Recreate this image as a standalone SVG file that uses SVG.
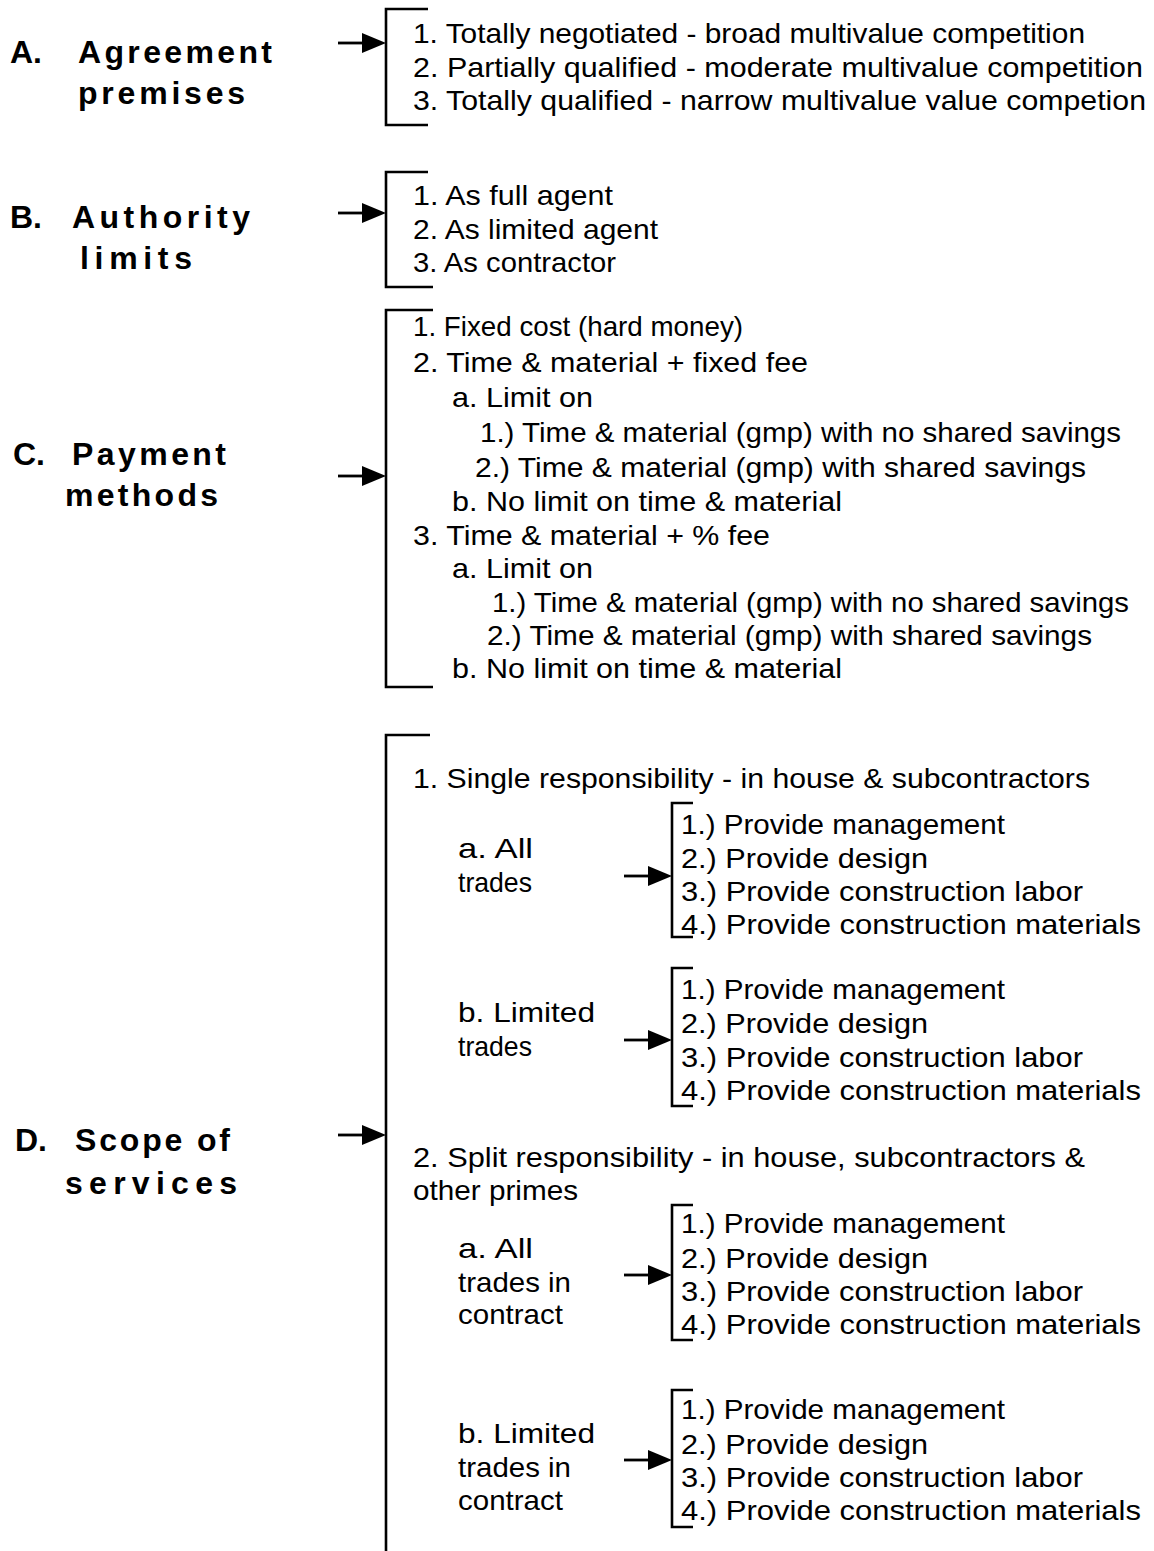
<svg xmlns="http://www.w3.org/2000/svg" width="1154" height="1551" viewBox="0 0 1154 1551">
<style>
.t{font-family:"Liberation Sans",Arial,sans-serif;font-size:28px;fill:#000}
.h{font-family:"Liberation Sans",Arial,sans-serif;font-size:32px;font-weight:bold;fill:#000}
.br{fill:none;stroke:#000;stroke-width:2.6}
.ar{stroke:#000;stroke-width:2.8}
</style>
<defs>
<g id="arrow"><line class="ar" x1="0" y1="0" x2="30" y2="0"/><path d="M24,-10 L48,0 L24,10 z" fill="#000"/></g>
</defs>
<g id="connectors">
<use href="#arrow" x="338" y="43"/>
<use href="#arrow" x="338" y="213"/>
<use href="#arrow" x="338" y="476"/>
<use href="#arrow" x="338" y="1135"/>
<use href="#arrow" x="624" y="876"/>
<use href="#arrow" x="624" y="1040"/>
<use href="#arrow" x="624" y="1275"/>
<use href="#arrow" x="624" y="1460"/>
</g>
<g id="nodeA">
<text class="h" x="10" y="63">A.</text>
<text class="h" x="78" y="63" textLength="194">Agreement</text>
<text class="h" x="78" y="104" textLength="167">premises</text>
</g>
<g id="listA">
<path class="br" d="M428,9 H386 V125 H428"/>
<text class="t" x="413" y="43" textLength="672" lengthAdjust="spacingAndGlyphs">1.  Totally negotiated - broad multivalue competition</text>
<text class="t" x="413" y="77" textLength="730" lengthAdjust="spacingAndGlyphs">2.  Partially qualified - moderate multivalue competition</text>
<text class="t" x="413" y="110" textLength="733" lengthAdjust="spacingAndGlyphs">3.  Totally qualified - narrow multivalue value competion</text>
</g>
<g id="nodeB">
<text class="h" x="10" y="228">B.</text>
<text class="h" x="72" y="228" textLength="178">Authority</text>
<text class="h" x="80" y="269" textLength="112">limits</text>
</g>
<g id="listB">
<path class="br" d="M428,172 H386 V287 H433"/>
<text class="t" x="413" y="205" textLength="200" lengthAdjust="spacingAndGlyphs">1.  As full agent</text>
<text class="t" x="413" y="239" textLength="245" lengthAdjust="spacingAndGlyphs">2.  As limited agent</text>
<text class="t" x="413" y="272" textLength="203" lengthAdjust="spacingAndGlyphs">3.  As contractor</text>
</g>
<g id="nodeC">
<text class="h" x="13" y="465">C.</text>
<text class="h" x="72" y="465" textLength="154">Payment</text>
<text class="h" x="65" y="506" textLength="153">methods</text>
</g>
<g id="listC">
<path class="br" d="M433,310 H386 V687 H433"/>
<text class="t" x="413" y="336" textLength="330" lengthAdjust="spacingAndGlyphs">1.  Fixed cost (hard money)</text>
<text class="t" x="413" y="372" textLength="395" lengthAdjust="spacingAndGlyphs">2.  Time &amp; material + fixed fee</text>
<text class="t" x="452" y="407" textLength="141" lengthAdjust="spacingAndGlyphs">a.  Limit on</text>
<text class="t" x="480" y="442" textLength="641" lengthAdjust="spacingAndGlyphs">1.) Time &amp; material (gmp) with no shared savings</text>
<text class="t" x="475" y="477" textLength="611" lengthAdjust="spacingAndGlyphs">2.) Time &amp; material (gmp) with shared savings</text>
<text class="t" x="452" y="511" textLength="390" lengthAdjust="spacingAndGlyphs">b.  No limit on time &amp; material</text>
<text class="t" x="413" y="545" textLength="357" lengthAdjust="spacingAndGlyphs">3.  Time &amp; material + % fee</text>
<text class="t" x="452" y="578" textLength="141" lengthAdjust="spacingAndGlyphs">a.  Limit on</text>
<text class="t" x="492" y="612" textLength="637" lengthAdjust="spacingAndGlyphs">1.) Time &amp; material (gmp) with no shared savings</text>
<text class="t" x="487" y="645" textLength="605" lengthAdjust="spacingAndGlyphs">2.) Time &amp; material (gmp) with shared savings</text>
<text class="t" x="452" y="678" textLength="390" lengthAdjust="spacingAndGlyphs">b.  No limit on time &amp; material</text>
</g>
<g id="nodeD">
<text class="h" x="15" y="1151">D.</text>
<text class="h" x="75" y="1151" textLength="155">Scope of</text>
<text class="h" x="65" y="1194" textLength="172">services</text>
</g>
<g id="listD">
<path class="br" d="M430,735 H386 V1551"/>
<text class="t" x="413" y="788" textLength="677" lengthAdjust="spacingAndGlyphs">1.  Single responsibility - in house &amp; subcontractors</text>
<text class="t" x="413" y="1167" textLength="672" lengthAdjust="spacingAndGlyphs">2.  Split responsibility - in house, subcontractors &amp;</text>
<text class="t" x="413" y="1200" textLength="165" lengthAdjust="spacingAndGlyphs">other primes</text>
</g>
<g id="nodeD1a">
<text class="t" x="458" y="858" textLength="75" lengthAdjust="spacingAndGlyphs">a.  All</text>
<text class="t" x="458" y="892" textLength="74" lengthAdjust="spacingAndGlyphs">trades</text>
</g>
<g id="listD1a">
<path class="br" d="M693,803 H672 V937 H693"/>
<text class="t" x="681" y="834" textLength="324" lengthAdjust="spacingAndGlyphs">1.) Provide management</text>
<text class="t" x="681" y="868" textLength="247" lengthAdjust="spacingAndGlyphs">2.) Provide design</text>
<text class="t" x="681" y="901" textLength="402" lengthAdjust="spacingAndGlyphs">3.) Provide construction labor</text>
<text class="t" x="681" y="934" textLength="460" lengthAdjust="spacingAndGlyphs">4.) Provide construction materials</text>
</g>
<g id="nodeD1b">
<text class="t" x="458" y="1022" textLength="137" lengthAdjust="spacingAndGlyphs">b.  Limited</text>
<text class="t" x="458" y="1056" textLength="74" lengthAdjust="spacingAndGlyphs">trades</text>
</g>
<g id="listD1b">
<path class="br" d="M693,968 H672 V1106 H693"/>
<text class="t" x="681" y="999" textLength="324" lengthAdjust="spacingAndGlyphs">1.) Provide management</text>
<text class="t" x="681" y="1033" textLength="247" lengthAdjust="spacingAndGlyphs">2.) Provide design</text>
<text class="t" x="681" y="1067" textLength="402" lengthAdjust="spacingAndGlyphs">3.) Provide construction labor</text>
<text class="t" x="681" y="1100" textLength="460" lengthAdjust="spacingAndGlyphs">4.) Provide construction materials</text>
</g>
<g id="nodeD2a">
<text class="t" x="458" y="1258" textLength="75" lengthAdjust="spacingAndGlyphs">a.  All</text>
<text class="t" x="458" y="1292" textLength="113" lengthAdjust="spacingAndGlyphs">trades in</text>
<text class="t" x="458" y="1324" textLength="105" lengthAdjust="spacingAndGlyphs">contract</text>
</g>
<g id="listD2a">
<path class="br" d="M693,1205 H672 V1340 H693"/>
<text class="t" x="681" y="1233" textLength="324" lengthAdjust="spacingAndGlyphs">1.) Provide management</text>
<text class="t" x="681" y="1268" textLength="247" lengthAdjust="spacingAndGlyphs">2.) Provide design</text>
<text class="t" x="681" y="1301" textLength="402" lengthAdjust="spacingAndGlyphs">3.) Provide construction labor</text>
<text class="t" x="681" y="1334" textLength="460" lengthAdjust="spacingAndGlyphs">4.) Provide construction materials</text>
</g>
<g id="nodeD2b">
<text class="t" x="458" y="1443" textLength="137" lengthAdjust="spacingAndGlyphs">b.  Limited</text>
<text class="t" x="458" y="1477" textLength="113" lengthAdjust="spacingAndGlyphs">trades in</text>
<text class="t" x="458" y="1510" textLength="105" lengthAdjust="spacingAndGlyphs">contract</text>
</g>
<g id="listD2b">
<path class="br" d="M693,1390 H672 V1527 H693"/>
<text class="t" x="681" y="1419" textLength="324" lengthAdjust="spacingAndGlyphs">1.) Provide management</text>
<text class="t" x="681" y="1454" textLength="247" lengthAdjust="spacingAndGlyphs">2.) Provide design</text>
<text class="t" x="681" y="1487" textLength="402" lengthAdjust="spacingAndGlyphs">3.) Provide construction labor</text>
<text class="t" x="681" y="1520" textLength="460" lengthAdjust="spacingAndGlyphs">4.) Provide construction materials</text>
</g>
</svg>
